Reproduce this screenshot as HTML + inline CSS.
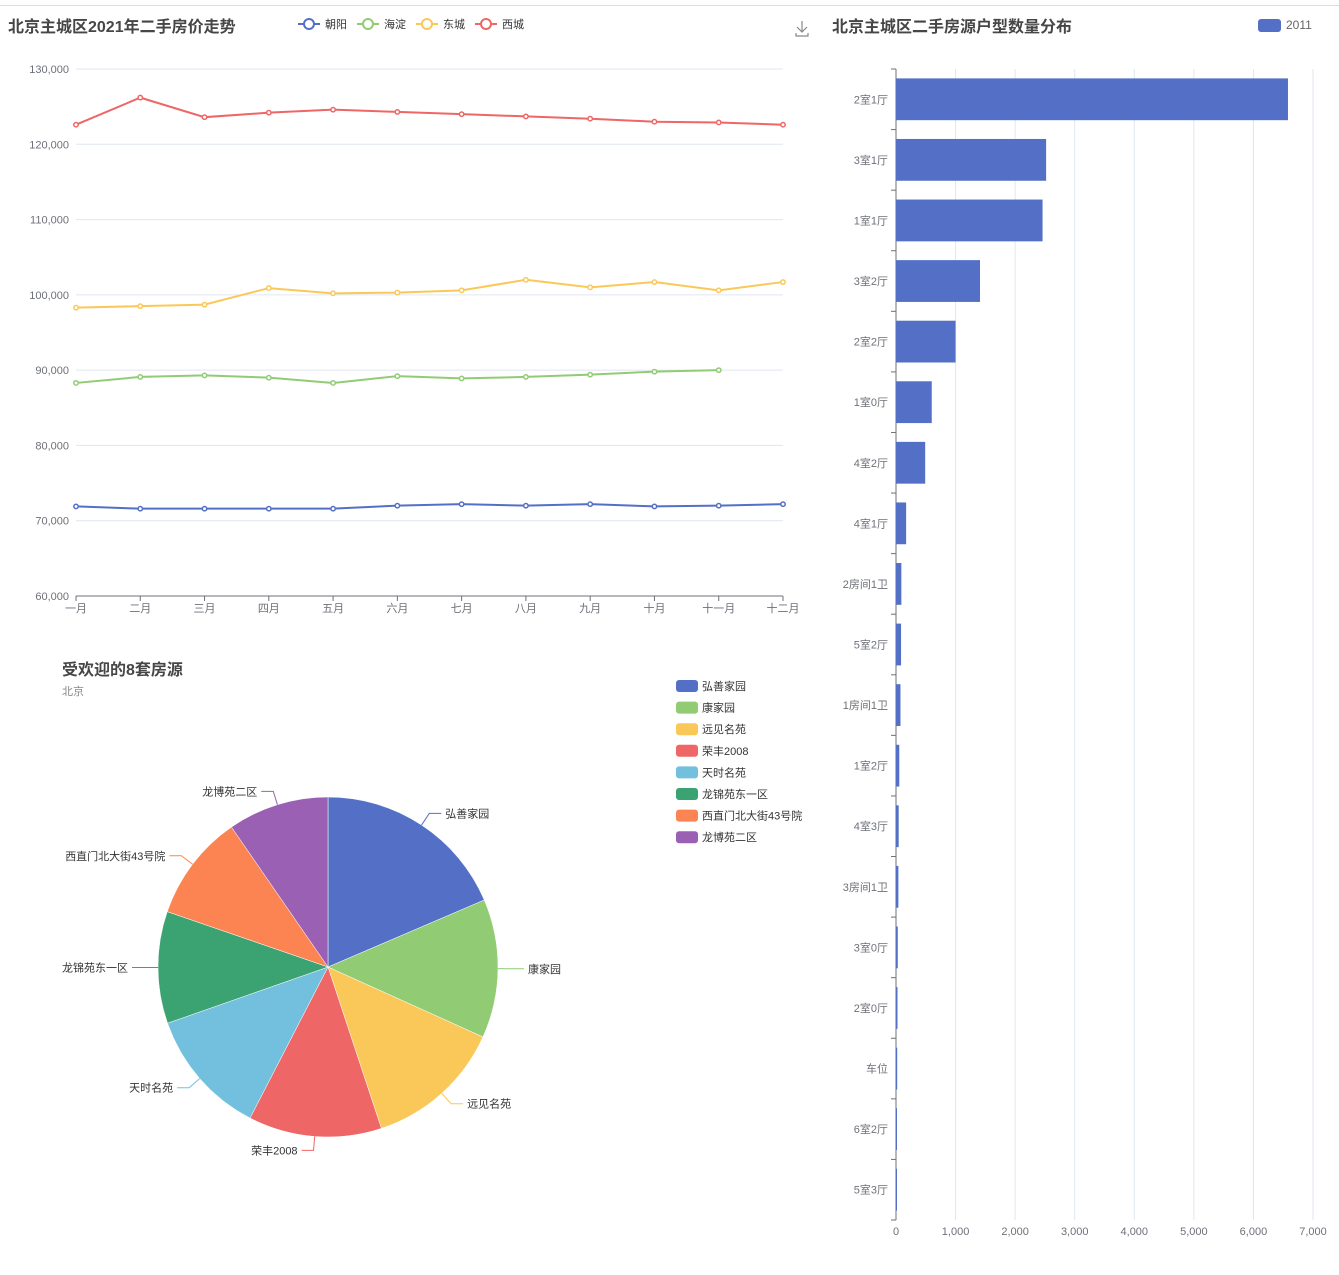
<!DOCTYPE html>
<html><head><meta charset="utf-8">
<style>
body{margin:0;background:#fff;width:1339px;height:1275px;overflow:hidden;font-family:"Liberation Sans","Noto Sans CJK SC",sans-serif;}
svg{position:absolute;left:0;top:0}
text{font-family:"Liberation Sans","Noto Sans CJK SC",sans-serif;}
</style></head>
<body>
<svg id="s" width="1339" height="1275">
<line x1="0" y1="5.5" x2="1339" y2="5.5" stroke="#ddd"/>
<text x="8" y="32" font-size="16" font-weight="bold" fill="#464646">北京主城区2021年二手房价走势</text>
<g id="lineLegend"></g>
<g stroke="#888" fill="none" stroke-width="1.2">
<path d="M802 21v11M797 27l5 5 5-5M796 33v3h12v-3"/></g>
<g id="lineChart"></g>
<text x="832" y="32" font-size="16" font-weight="bold" fill="#464646">北京主城区二手房源户型数量分布</text>
<rect x="1258" y="19" width="23" height="13" rx="3" fill="#5470c6"/>
<text x="1286" y="29" font-size="12" fill="#666">2011</text>
<g id="barChart"></g>
<text x="62" y="675" font-size="16" font-weight="bold" fill="#464646">受欢迎的8套房源</text>
<text x="62" y="695" font-size="11" fill="#888">北京</text>
<g id="pieChart"></g>
<g id="pieLegend"></g>
</svg>
<script>
const NS="http://www.w3.org/2000/svg";
function mk(tag,attrs,parent,txt){const e=document.createElementNS(NS,tag);for(const k in attrs)e.setAttribute(k,attrs[k]);if(txt!==undefined)e.textContent=txt;parent.appendChild(e);return e;}

// ---- line chart data ----
const months=["一月","二月","三月","四月","五月","六月","七月","八月","九月","十月","十一月","十二月"];
const seriesNames=["朝阳","海淀","东城","西城"];
const chaoyang=[71900,71600,71600,71600,71600,72000,72200,72000,72200,71900,72000,72200];
const haidian=[88300,89100,89300,89000,88300,89200,88900,89100,89400,89800,90000];
const dongcheng=[98300,98500,98700,100900,100200,100300,100600,102000,101000,101700,100600,101700];
const xicheng=[122600,126200,123600,124200,124600,124300,124000,123700,123400,123000,122900,122600];
const yTicks=[60000,70000,80000,90000,100000,110000,120000,130000];
const lineColors=["#5470c6","#91cc75","#fac858","#ee6666"];

const lc=document.getElementById('lineChart');
const X0=76,X1=783,Y0=596,Y1=69,YMIN=60000,YMAX=130000;
const xs=i=>X0+i*(X1-X0)/(months.length-1);
const ys=v=>Y0-(v-YMIN)/(YMAX-YMIN)*(Y0-Y1);
yTicks.forEach(t=>{
  if(t!==YMIN){const g=mk('line',{x1:X0,x2:X1,y1:ys(t),y2:ys(t),stroke:'#e0e6f1'},lc);
  
  }
  const l=mk('text',{x:X0-7,y:ys(t)+4,'text-anchor':'end','font-size':11,fill:'#6e7079'},lc,t.toLocaleString('en-US'));
  
  
});
const ax=mk('line',{x1:X0,x2:X1,y1:Y0,y2:Y0,stroke:'#6e7079'},lc);


months.forEach((m,i)=>{
  const t=mk('line',{x1:xs(i),x2:xs(i),y1:Y0,y2:Y0+5,stroke:'#6e7079'},lc);
  
  
  const l=mk('text',{x:xs(i),y:Y0+16,'text-anchor':'middle','font-size':11,fill:'#6e7079'},lc,m);
  
  
});
[chaoyang,haidian,dongcheng,xicheng].forEach((d,si)=>{
  const p=mk('polyline',{points:d.map((v,i)=>xs(i)+','+ys(v)).join(' '),fill:'none',stroke:lineColors[si],'stroke-width':2},lc);
  
  
  d.forEach((v,i)=>{
    const c=mk('circle',{cx:xs(i),cy:ys(v),r:2.2,fill:'#fff',stroke:lineColors[si],'stroke-width':1.5},lc);
    
    
  });
});
const ll=document.getElementById('lineLegend');
seriesNames.forEach((n,i)=>{
  const x=298+i*59;
  const g=mk('g',{},ll);
  
  
  mk('line',{x1:x,x2:x+22,y1:24,y2:24,stroke:lineColors[i],'stroke-width':2},g);
  mk('circle',{cx:x+11,cy:24,r:5,fill:'#fff',stroke:lineColors[i],'stroke-width':2},g);
  mk('text',{x:x+27,y:28,'font-size':11,fill:'#333'},g,n);
});

// ---- bar chart data ----
const roomTypes=["2室1厅","3室1厅","1室1厅","3室2厅","2室2厅","1室0厅","4室2厅","4室1厅","2房间1卫","5室2厅","1房间1卫","1室2厅","4室3厅","3房间1卫","3室0厅","2室0厅","车位","6室2厅","5室3厅"];
const roomCounts=[6580,2520,2460,1410,1000,600,490,170,90,85,75,55,45,40,30,25,20,15,10];
const xTicksBar=[0,1000,2000,3000,4000,5000,6000,7000];
const bc=document.getElementById('barChart');
const BX0=896,BX1=1313,BY0=69,BY1=1220,BMAX=7000;
const bx=v=>BX0+v/BMAX*(BX1-BX0);
const nb=roomTypes.length;
const band=(BY1-BY0)/nb;
xTicksBar.forEach(t=>{
  if(t>0){const g=mk('line',{x1:bx(t),x2:bx(t),y1:BY0,y2:BY1,stroke:'#e0e6f1'},bc);
  
  }
  const l=mk('text',{x:bx(t),y:BY1+15,'text-anchor':'middle','font-size':11,fill:'#6e7079'},bc,t.toLocaleString('en-US'));
  
  
});
const bax=mk('line',{x1:BX0,x2:BX0,y1:BY0,y2:BY1,stroke:'#6e7079'},bc);


for(let i=0;i<=nb;i++){
  const t=mk('line',{x1:BX0-5,x2:BX0,y1:BY0+i*band,y2:BY0+i*band,stroke:'#6e7079'},bc);
  
  
}
roomTypes.forEach((r,i)=>{
  const cy=BY0+band*(i+0.5);
  const b=mk('rect',{x:BX0,y:cy-band*0.345,width:Math.max(bx(roomCounts[i])-BX0,1),height:band*0.69,fill:'#5470c6'},bc);
  
  
  const l=mk('text',{x:BX0-8,y:cy+4,'text-anchor':'end','font-size':11,fill:'#6e7079'},bc,r);
  
  
});

// ---- pie chart data ----
const estates=["弘善家园","康家园","远见名苑","荣丰2008","天时名苑","龙锦苑东一区","西直门北大街43号院","龙博苑二区"];
const estateValues=[66.8,47.5,47.4,45.6,43.4,38.3,36.4,34.6];
const pieColors=["#5470c6","#91cc75","#fac858","#ee6666","#73c0de","#3ba272","#fc8452","#9a60b4"];
const pc=document.getElementById('pieChart');
const CX=328,CY=967,R=170;
const total=estateValues.reduce((a,b)=>a+b,0);
let acc=0;
const pt=(a,r)=>[CX+r*Math.sin(a),CY-r*Math.cos(a)];
estates.forEach((n,i)=>{
  const a0=acc/total*2*Math.PI;acc+=estateValues[i];const a1=acc/total*2*Math.PI;
  const p0=pt(a0,R),p1=pt(a1,R);
  const large=(a1-a0)>Math.PI?1:0;
  const s=mk('path',{d:`M${CX},${CY}L${p0[0]},${p0[1]}A${R},${R} 0 ${large} 1 ${p1[0]},${p1[1]}Z`,fill:pieColors[i],stroke:'#fff','stroke-width':0.5},pc);
  
  
  const am=(a0+a1)/2;
  const q1=pt(am,R),q2=pt(am,R+14);
  const right=Math.sin(am)>=0;
  const q3=[q2[0]+(right?12:-12),q2[1]];
  const ln=mk('polyline',{points:`${q1} ${q2} ${q3}`,fill:'none',stroke:pieColors[i]},pc);
  
  
  const t=mk('text',{x:q3[0]+(right?4:-4),y:q3[1]+4,'text-anchor':right?'start':'end','font-size':11,fill:'#333'},pc,n);
  
  
});
const pl=document.getElementById('pieLegend');
estates.forEach((n,i)=>{
  const y=680+i*21.6;
  const g=mk('g',{},pl);
  
  
  mk('rect',{x:676,y:y,width:22,height:12,rx:3,fill:pieColors[i]},g);
  mk('text',{x:702,y:y+10,'font-size':11,fill:'#333'},g,n);
});
</script>
</body></html>
